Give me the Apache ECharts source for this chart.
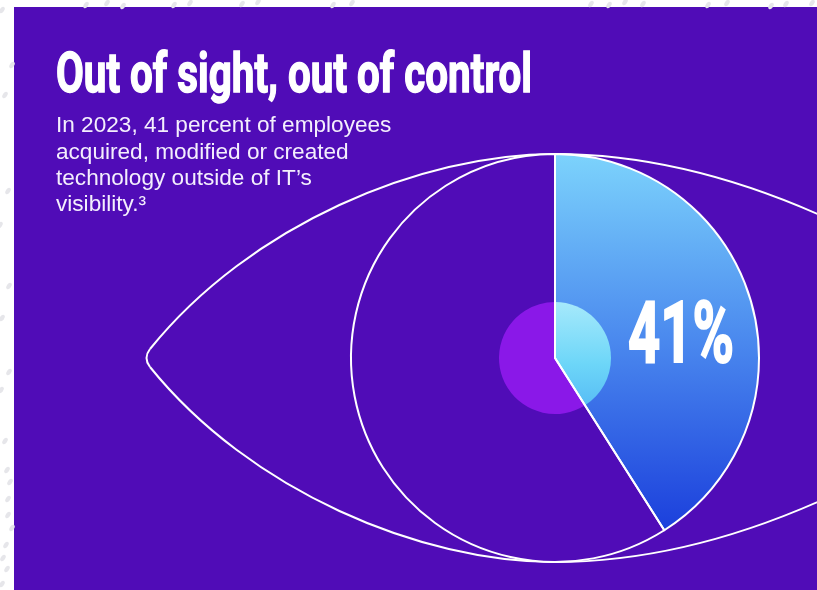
<!DOCTYPE html>
<html>
<head>
<meta charset="utf-8">
<script src="https://cdn.jsdelivr.net/npm/echarts@6/dist/echarts.min.js"></script>
<style>
html,body{margin:0;padding:0;background:#ffffff;}
#chart{width:817px;height:590px;}
</style>
</head>
<body>
<div id="chart"></div>
<script>
// ---- data ----
const categories = ['Outside IT visibility', 'Within IT visibility'];
const values = [41, 59];
const headline = 'Out of sight, out of control';
const subtitleLines = [
  'In 2023, 41 percent of employees',
  'acquired, modified or created',
  'technology outside of IT\u2019s',
  'visibility.\u00b3'
];
// decorative dots in the white margin
const dotsX = [2,12,5,8,0,9,2,9,1,5,7,10,8,8,12,6,3,7,2,86,107,123,174,190,242,258,333,352,591,609,625,643,708,727,771,786,812];
const dotsY = [10,65,95,191,225,286,318,372,390,441,470,482,499,515,528,545,558,569,584,5,3,6,5,3,4,2,5,3,4,5,2,4,5,3,6,4,3];

// ---- helpers ----
const PURPLE = '#500cb7';
const measureCtx = document.createElement('canvas').getContext('2d');
function textWidth(text, font) { measureCtx.font = font; return measureCtx.measureText(text).width; }

const titleFont = 'bold 56px Roboto';
const titleScale = 476 / textWidth(headline, titleFont);
const pctText = values[0] + '%';
const pctFont = 'bold 86px Roboto';
const pctScale = 106 / textWidth(pctText, pctFont);

const chart = echarts.init(document.getElementById('chart'), null, {renderer: 'canvas'});

const outerColors = [
  new echarts.graphic.LinearGradient(0, 0, 0, 1, [
    {offset: 0, color: '#7cd3fc'},
    {offset: 0.5, color: '#4a88ee'},
    {offset: 1, color: '#1b3fdc'}
  ]),
  PURPLE
];
const innerColors = [
  new echarts.graphic.LinearGradient(0, 0, 0, 1, [
    {offset: 0, color: '#a6e9fb'},
    {offset: 0.6, color: '#6dd6f8'},
    {offset: 1, color: '#58bdf5'}
  ]),
  '#8a18e8'
];

const lineStyle = {fill: 'none', stroke: '#ffffff', lineWidth: 2};
const eyeCurves = [
  {x1: 870, y1: 477, cpx1: 705, cpy1: 562, x2: 555, y2: 562},
  {x1: 555, y1: 562, cpx1: 420, cpy1: 562, cpx2: 250, cpy2: 491, x2: 150, y2: 367},
  {x1: 150, y1: 367, cpx1: 143, cpy1: 358, x2: 150, y2: 349},
  {x1: 150, y1: 349, cpx1: 250, cpy1: 225, cpx2: 420, cpy2: 154, x2: 555, y2: 154},
  {x1: 555, y1: 154, cpx1: 705, cpy1: 154, x2: 870, y2: 239}
];

const graphics = [
  {type: 'rect', z: -10, shape: {x: 14, y: 7, width: 803, height: 583}, style: {fill: PURPLE}, silent: true}
];
eyeCurves.forEach(s => graphics.push({type: 'bezierCurve', z: 1, shape: s, style: lineStyle, silent: true}));
graphics.push(
  {type: 'text', z: 10, x: 56, y: 78, scaleX: titleScale,
    style: {text: headline, font: titleFont, fill: '#ffffff', align: 'left', verticalAlign: 'middle', stroke: '#ffffff', lineWidth: 1.5}},
  {type: 'text', z: 10, x: 56, y: 113,
    style: {text: subtitleLines.join('\n'), font: '22.6px "Liberation Sans", Arial, sans-serif', lineHeight: 26.3, fill: '#f4effd', align: 'left', verticalAlign: 'top'}},
  {type: 'text', z: 10, x: 628, y: 340, scaleX: pctScale,
    style: {text: pctText, font: pctFont, fill: '#ffffff', align: 'left', verticalAlign: 'middle', stroke: '#ffffff', lineWidth: 2}}
);
dotsX.forEach((x, i) => {
  graphics.push({type: 'circle', z: -5, x: x, y: dotsY[i], rotation: -0.6, scaleX: 0.6,
    shape: {cx: 0, cy: 0, r: 3.6}, style: {fill: '#e6e6ea'}, silent: true});
});

const pieBase = {
  type: 'pie', center: [555, 358], startAngle: 90, clockwise: true, silent: true,
  label: {show: false}, labelLine: {show: false}, emphasis: {disabled: true},
  avoidLabelOverlap: false, animation: false
};

chart.setOption({
  backgroundColor: '#ffffff',
  animation: false,
  graphic: graphics,
  series: [
    Object.assign({}, pieBase, {
      z: 2, radius: [0, 204],
      data: categories.map((c, i) => ({name: c, value: values[i], itemStyle: {color: outerColors[i], borderWidth: 0}}))
    }),
    Object.assign({}, pieBase, {
      z: 3, radius: [0, 56],
      data: categories.map((c, i) => ({name: c, value: values[i], itemStyle: {color: innerColors[i], borderWidth: 0}}))
    }),
    Object.assign({}, pieBase, {
      z: 4, radius: [0, 204],
      data: categories.map((c, i) => ({name: c, value: values[i], itemStyle: {color: 'rgba(0,0,0,0)', borderColor: '#ffffff', borderWidth: 2}}))
    })
  ]
});
</script>
</body>
</html>
